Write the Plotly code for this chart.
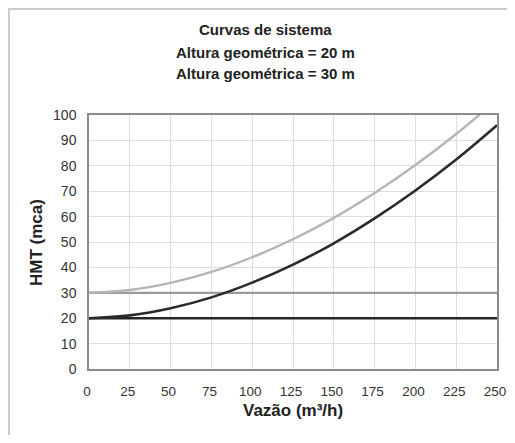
import plotly.graph_objects as go

vazao = [0, 25, 50, 75, 100, 125, 150, 175, 200, 225, 250]
hmt_20 = [20.0, 21.1, 23.9, 28.2, 34.0, 41.1, 49.5, 59.3, 70.3, 82.5, 96.0]
hmt_30 = [30.0, 31.1, 33.9, 38.2, 44.0, 51.1, 59.5, 69.3, 80.3, 92.5, 106.0]
geo_20 = [20, 20]
geo_30 = [30, 30]
geo_x = [0, 250]
x_ticks = [0, 25, 50, 75, 100, 125, 150, 175, 200, 225, 250]
y_ticks = [0, 10, 20, 30, 40, 50, 60, 70, 80, 90, 100]
title_lines = ["Curvas de sistema", "Altura geométrica = 20 m", "Altura geométrica = 30 m"]

FONT = "Liberation Sans, Arial, sans-serif"

# figure-pixel geometry (page has an 8px body offset)
W, H = 499, 427
L, R, T, B = 81, 489, 107, 361
PW, PH = R - L, B - T


def px(x):
    return (x - L) / PW


def py(y):
    return (B - y) / PH


fig = go.Figure()
fig.add_trace(go.Scatter(x=geo_x, y=geo_20, mode="lines",
                         line=dict(color="#262626", width=2.6), showlegend=False))
fig.add_trace(go.Scatter(x=geo_x, y=geo_30, mode="lines",
                         line=dict(color="#9a9a9a", width=2.2), showlegend=False))
fig.add_trace(go.Scatter(x=vazao, y=hmt_30, mode="lines",
                         line=dict(color="#b5b5b5", width=2.4, shape="spline"), showlegend=False))
fig.add_trace(go.Scatter(x=vazao, y=hmt_20, mode="lines",
                         line=dict(color="#2a2a2a", width=2.6, shape="spline"), showlegend=False))

annotations = []
for i, (txt, yy) in enumerate(zip(title_lines, [22, 44, 65])):
    annotations.append(dict(text="<b>%s</b>" % txt, xref="paper", yref="paper",
                            x=px(257), y=py(yy), xanchor="center", yanchor="middle",
                            showarrow=False, font=dict(family=FONT, size=15, color="#222222")))
annotations.append(dict(text="<b>Vazão (m³/h)</b>", xref="paper", yref="paper",
                        x=px(285), y=py(402), xanchor="center", yanchor="middle",
                        showarrow=False, font=dict(family=FONT, size=17, color="#222222")))
annotations.append(dict(text="<b>HMT (mca)</b>", xref="paper", yref="paper",
                        x=px(28), y=py(234), xanchor="center", yanchor="middle", textangle=-90,
                        showarrow=False, font=dict(family=FONT, size=17, color="#222222")))

fig.update_layout(
    autosize=False,
    width=W, height=H,
    margin=dict(l=L, r=W - R, t=T, b=H - B, autoexpand=False),
    paper_bgcolor="white", plot_bgcolor="white",
    font=dict(family=FONT, color="#333333"),
    annotations=annotations,
    xaxis=dict(
        range=[0, 250], tickvals=x_ticks, ticktext=[str(v) for v in x_ticks],
        showgrid=True, gridcolor="#dddddd", gridwidth=1, automargin=False,
        showline=True, linecolor="#8a8a8a", linewidth=1.5, mirror=True,
        ticks="", ticklabelstandoff=9, ticklabelshift=-2, zeroline=False,
        ticklabeloverflow="allow",
        tickfont=dict(size=13.5, color="#333333"),
    ),
    yaxis=dict(
        range=[0, 100], tickvals=y_ticks, ticktext=[str(v) for v in y_ticks],
        showgrid=True, gridcolor="#dddddd", gridwidth=1, automargin=False,
        showline=True, linecolor="#8a8a8a", linewidth=1.5, mirror=True,
        ticks="", ticklabelstandoff=8, zeroline=False, ticklabeloverflow="allow",
        tickfont=dict(size=14, color="#333333"),
    ),
    shapes=[
        dict(type="line", xref="paper", yref="paper",
             x0=px(0), x1=px(520), y0=py(1), y1=py(1),
             line=dict(color="#cccccc", width=2)),
        dict(type="line", xref="paper", yref="paper",
             x0=px(1), x1=px(1), y0=py(0), y1=py(450),
             line=dict(color="#cccccc", width=2)),
    ],
)

fig.write_html("out.html")
